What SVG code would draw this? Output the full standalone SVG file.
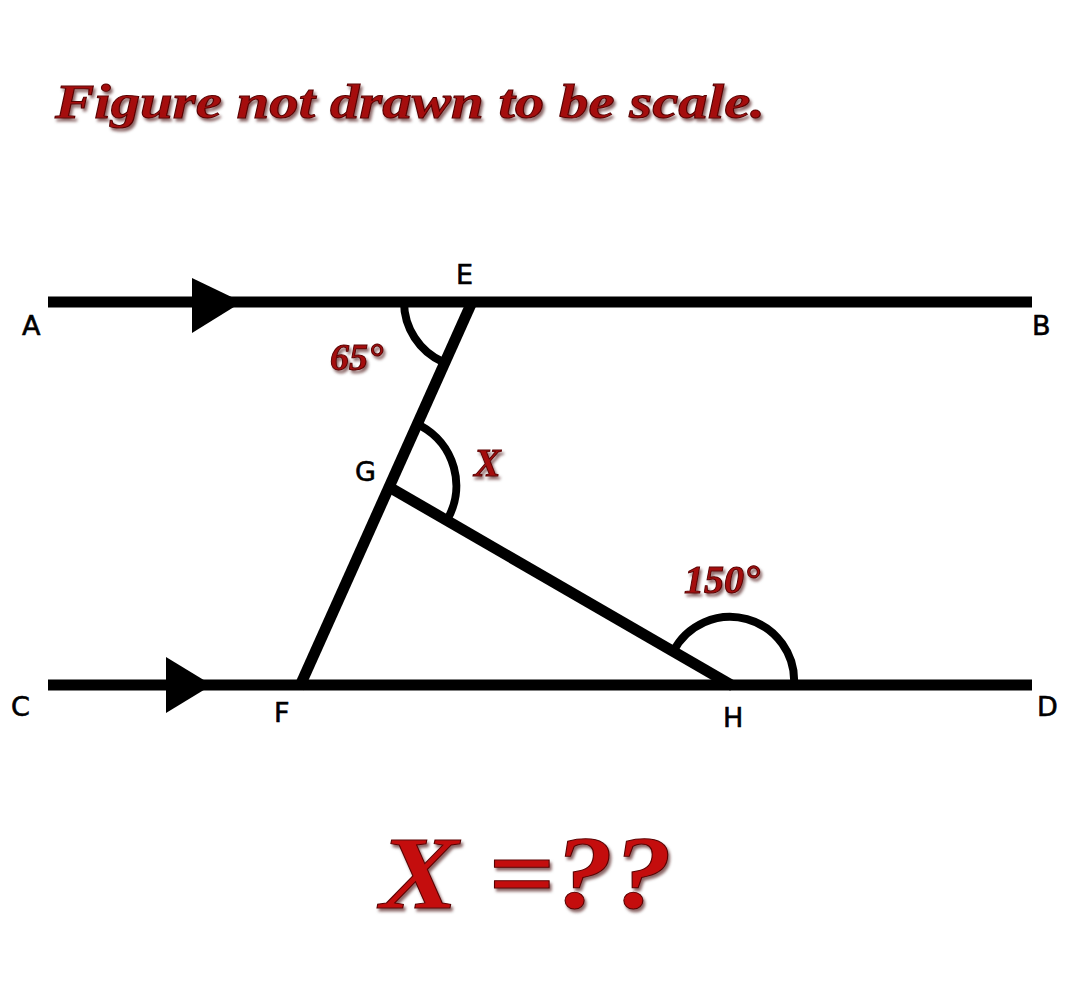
<svg xmlns="http://www.w3.org/2000/svg" width="1080" height="1002" viewBox="0 0 1080 1002">
<defs>
<style>
.ln{stroke:#000;stroke-width:11;fill:none;stroke-linecap:butt}
.arc{stroke:#000;stroke-width:8;fill:none}
.lbl{font-family:"DejaVu Sans","Liberation Sans",sans-serif;font-size:27px;fill:#000;stroke:#000;stroke-width:0.6}
.red{font-family:"Liberation Serif",serif;font-weight:bold;font-style:italic;fill:#a50f0f;stroke:#5a0000;stroke-width:1}
</style>
<filter id="sh" x="-10%" y="-10%" width="130%" height="130%">
<feDropShadow dx="2" dy="3" stdDeviation="1.5" flood-color="#3a0000" flood-opacity="0.6"/>
</filter>
</defs>
<rect width="1080" height="1002" fill="#fff"/>
<text id="title" class="red" x="55" y="118" font-size="48" textLength="710" lengthAdjust="spacingAndGlyphs" filter="url(#sh)">Figure not drawn to be scale.</text>
<g id="connectors">
<line id="AB" class="ln" x1="48" y1="302" x2="1032" y2="302"/>
<line id="CD" class="ln" x1="48" y1="685" x2="1032" y2="685"/>
<line id="EF" class="ln" x1="472" y1="302" x2="299" y2="688"/>
<line id="GH" class="ln" x1="389" y1="487" x2="733" y2="686"/>
<polygon points="192,278 242,302 192,333" fill="#000"/>
<polygon points="166,657 212,685 166,713" fill="#000"/>
<path class="arc" d="M404,302 A66,66 0 0 0 443,362"/>
<path class="arc" d="M421,426 A68,68 0 0 1 447,520"/>
<path class="arc" d="M673,652 A64,64 0 0 1 794,685"/>
</g>
<g id="labels">
<text class="lbl" x="22" y="335">A</text>
<text class="lbl" x="1032" y="335">B</text>
<text class="lbl" x="11" y="716">C</text>
<text class="lbl" x="1037" y="716">D</text>
<text class="lbl" x="456" y="284">E</text>
<text class="lbl" x="274" y="722">F</text>
<text class="lbl" x="355" y="481">G</text>
<text class="lbl" x="723" y="727">H</text>
</g>
<g id="angles">
<text class="red" x="330" y="370" font-size="38" filter="url(#sh)">65°</text>
<text class="red" x="474" y="476" font-size="40" filter="url(#sh)">X</text>
<text class="red" x="684" y="593" font-size="40" filter="url(#sh)">150°</text>
</g>
<text id="question" class="red" x="380" y="908" font-size="104" textLength="292" lengthAdjust="spacingAndGlyphs" filter="url(#sh)" style="fill:#c41010">X =??</text>
</svg>
